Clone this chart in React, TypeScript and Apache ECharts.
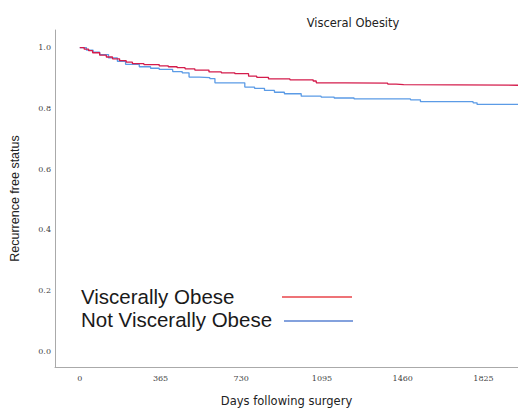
import React, { useEffect, useRef } from "react";
import * as echarts from "echarts";

const title = "Visceral Obesity";
const xAxisTitle = "Days following surgery";
const yAxisTitle = "Recurrence free status";
const seriesNames = ["Viscerally Obese", "Not Viscerally Obese"];
const xTickLabels = [0, 365, 730, 1095, 1460, 1825];
const yTickLabels = [0, 0.2, 0.4, 0.6, 0.8, 1.0];

// Kaplan-Meier style steps: [day, survival after that day]
const obeseDays = [0, 20, 40, 58, 90, 120, 148, 180, 210, 238, 290, 359, 400, 440, 476, 520, 584, 640, 701, 763, 800, 853, 950, 1055, 1069, 1200, 1392, 1430, 1464, 1981];
const obeseSurv = [1.0, 0.995, 0.99, 0.983, 0.975, 0.969, 0.963, 0.957, 0.952, 0.947, 0.944, 0.94, 0.937, 0.934, 0.93, 0.926, 0.92, 0.917, 0.914, 0.906, 0.902, 0.897, 0.894, 0.89, 0.884, 0.883, 0.88, 0.878, 0.876, 0.876];

const notObeseDays = [0, 30, 60, 90, 130, 170, 207, 269, 320, 359, 420, 463, 494, 540, 588, 611, 746, 790, 835, 880, 925, 1001, 1091, 1150, 1240, 1495, 1540, 1778, 1796, 1981];
const notObeseSurv = [1.0, 0.992, 0.985, 0.977, 0.966, 0.955, 0.945, 0.937, 0.932, 0.928, 0.921, 0.917, 0.903, 0.901, 0.898, 0.884, 0.87, 0.866, 0.859, 0.853, 0.848, 0.84, 0.837, 0.834, 0.831, 0.828, 0.822, 0.818, 0.813, 0.813];

const curveColors = ["#d41c4c", "#5b9be6"];
const legendColors = ["#e8454a", "#5a82d2"];

export default function App() {
  const ref = useRef<HTMLDivElement>(null);
  useEffect(() => {
    if (!ref.current) return;
    const chart = echarts.init(ref.current, null, { renderer: "svg" });
    const pair = (d: number[], s: number[]) => d.map((v, i) => [v, s[i]]);
    chart.setOption({
      animation: false,
      backgroundColor: "#ffffff",
      title: {
        text: title,
        left: 348,
        top: 12,
        textAlign: "center",
        textStyle: { fontFamily: "DejaVu Sans", fontSize: 11.5, fontWeight: "normal", color: "#222" },
      },
      grid: { left: 52, right: 0, top: 30, bottom: 45 },
      xAxis: {
        type: "value",
        min: -112,
        max: 1981,
        name: xAxisTitle,
        nameLocation: "middle",
        nameGap: 28,
        nameTextStyle: { fontFamily: "DejaVu Sans", fontSize: 11.5, color: "#222" },
        axisLine: { show: true, onZero: false, lineStyle: { color: "#aaaaaa", width: 1 } },
        axisTick: { show: false },
        splitLine: { show: false },
        axisLabel: {
          customValues: xTickLabels,
          formatter: (v: number) => String(v),
          margin: 7,
          fontFamily: "DejaVu Serif",
          fontSize: 8,
          color: "#444",
        },
      },
      yAxis: {
        type: "value",
        min: -0.052,
        max: 1.058,
        name: yAxisTitle,
        nameLocation: "middle",
        nameGap: 34,
        nameRotate: 90,
        nameTextStyle: { fontFamily: "Liberation Sans", fontSize: 12.5, color: "#222" },
        axisLine: { show: true, onZero: false, lineStyle: { color: "#aaaaaa", width: 1 } },
        axisTick: { show: false },
        splitLine: { show: false },
        axisLabel: {
          customValues: yTickLabels,
          margin: 4,
          formatter: (v: number) => v.toFixed(1),
          fontFamily: "DejaVu Serif",
          fontSize: 8,
          color: "#444",
        },
      },
      series: [
        {
          name: seriesNames[0],
          type: "line",
          step: "end",
          showSymbol: false,
          lineStyle: { color: curveColors[0], width: 1.3 },
          data: pair(obeseDays, obeseSurv),
          z: 3,
        },
        {
          name: seriesNames[1],
          type: "line",
          step: "end",
          showSymbol: false,
          lineStyle: { color: curveColors[1], width: 1.3 },
          data: pair(notObeseDays, notObeseSurv),
          z: 2,
        },
      ],
      graphic: [
        {
          type: "text",
          left: 81,
          top: 286,
          style: { text: seriesNames[0], fontFamily: "Liberation Sans", fontSize: 20.5, fill: "#1a1a1a" },
        },
        {
          type: "text",
          left: 81,
          top: 309,
          style: { text: seriesNames[1], fontFamily: "Liberation Sans", fontSize: 20.5, fill: "#1a1a1a" },
        },
        {
          type: "line",
          shape: { x1: 282, y1: 297, x2: 352, y2: 297 },
          style: { stroke: legendColors[0], lineWidth: 1.3 },
        },
        {
          type: "line",
          shape: { x1: 284, y1: 321, x2: 353, y2: 321 },
          style: { stroke: legendColors[1], lineWidth: 1.3 },
        },
      ],
    });
    return () => chart.dispose();
  }, []);
  return <div ref={ref} style={{ position: "fixed", left: 0, top: 0, width: 518, height: 412 }} />;
}
